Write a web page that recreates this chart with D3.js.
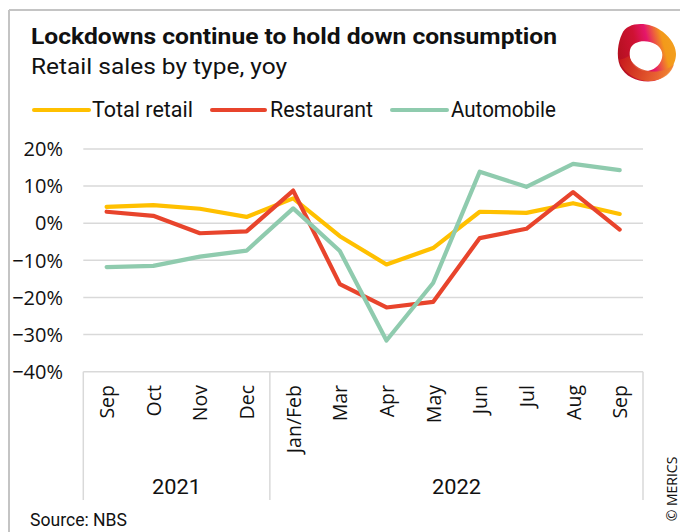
<!DOCTYPE html>
<html><head><meta charset="utf-8">
<script src="https://cdn.jsdelivr.net/npm/d3@7"></script>
<style>
html,body{margin:0;padding:0;background:#fff;}
svg{display:block;}
</style></head>
<body>
<svg id="chart" width="680" height="532"></svg>
<script>
const months = ["Sep","Oct","Nov","Dec","Jan/Feb","Mar","Apr","May","Jun","Jul","Aug","Sep"];
const years = [{label:"2021", from:0, to:4}, {label:"2022", from:4, to:12}];
const totalRetail = [4.4, 4.9, 3.9, 1.7, 6.7, -3.5, -11.1, -6.7, 3.1, 2.8, 5.4, 2.5];
const restaurant  = [3.1, 2.0, -2.7, -2.2, 8.8, -16.4, -22.7, -21.2, -4.0, -1.5, 8.4, -1.7];
const automobile  = [-11.8, -11.5, -9.0, -7.4, 4.0, -7.5, -31.6, -16.1, 13.9, 9.8, 16.0, 14.3];
const yTicks = [20, 10, 0, -10, -20, -30, -40];
const seriesNames = ["Total retail", "Restaurant", "Automobile"];
const seriesColors = ["#FFC000", "#E8442C", "#8FCBAE"];
const seriesData = [totalRetail, restaurant, automobile];

const svg = d3.select("#chart");
const condensed = "Roboto, 'Liberation Sans', sans-serif";
const axisFont = "'Open Sans', 'DejaVu Sans', sans-serif";

// frame
svg.append("line").attr("x1",9).attr("x2",680).attr("y1",10).attr("y2",10).attr("stroke","#c4c4c4").attr("stroke-width",2);
svg.append("line").attr("x1",9).attr("x2",9).attr("y1",10).attr("y2",532).attr("stroke","#c4c4c4").attr("stroke-width",2);

// title
svg.append("text").attr("x",31).attr("y",43.5).attr("font-family",condensed).attr("font-weight","bold")
  .attr("font-size",22.5).attr("fill","#111").attr("textLength",526).attr("lengthAdjust","spacingAndGlyphs")
  .text("Lockdowns continue to hold down consumption");
svg.append("text").attr("x",31).attr("y",73.5).attr("font-family",condensed)
  .attr("font-size",22).attr("fill","#111").attr("textLength",256).attr("lengthAdjust","spacingAndGlyphs")
  .text("Retail sales by type, yoy");

// logo
const defs = svg.append("defs");
const lg = defs.append("linearGradient").attr("id","lg").attr("x1","0").attr("y1","0.6").attr("x2","1").attr("y2","0.35");
lg.append("stop").attr("offset","0").attr("stop-color","#b3101f");
lg.append("stop").attr("offset","0.35").attr("stop-color","#cf1233");
lg.append("stop").attr("offset","0.55").attr("stop-color","#e5166a");
lg.append("stop").attr("offset","0.8").attr("stop-color","#f39a1a");
lg.append("stop").attr("offset","1").attr("stop-color","#f3a020");
const lg2 = defs.append("linearGradient").attr("id","lg2").attr("x1","0").attr("y1","0").attr("x2","1").attr("y2","0.2");
lg2.append("stop").attr("offset","0").attr("stop-color","#c8161c");
lg2.append("stop").attr("offset","1").attr("stop-color","#f08030");
const logo = svg.append("g");
logo.append("path")
  .attr("d","M622,34 C626,24 640,22 652,26 C664,30 676,42 676,54 C676,66 666,78 654,81 C640,83 626,78 620,66 C616,56 618,42 622,34 Z M630,50 C632,42 642,40 650,42 C658,44 664,50 662,58 C660,66 652,72 644,71 C636,70 628,62 630,50 Z")
  .attr("fill","url(#lg)").attr("fill-rule","evenodd");
logo.append("path")
  .attr("d","M619,60 C623,72 636,82 652,81 C664,80 672,72 674,64 C668,70 658,73 648,71 C638,69 632,64 629,56 C626,58 622,59 619,60 Z")
  .attr("fill","url(#lg2)").attr("opacity",0.9);

// legend
const legendItems = [
  {x1:34, x2:89, tx:92, tw:101},
  {x1:212, x2:265, tx:270, tw:103},
  {x1:392, x2:447, tx:451, tw:105}
];
legendItems.forEach((d,i)=>{
  svg.append("line").attr("x1",d.x1).attr("x2",d.x2).attr("y1",110).attr("y2",110)
    .attr("stroke",seriesColors[i]).attr("stroke-width",4).attr("stroke-linecap","round");
  svg.append("text").attr("x",d.tx).attr("y",117).attr("font-family",condensed).attr("font-size",21.5)
    .attr("fill","#111").attr("textLength",d.tw).attr("lengthAdjust","spacingAndGlyphs").text(seriesNames[i]);
});

// scales
const x = d3.scaleBand().domain(d3.range(months.length)).range([83.3, 643]).padding(0);
const y = d3.scaleLinear().domain([-40, 20]).range([371.7, 149]);
const cx = i => x(i) + x.bandwidth()/2;

// gridlines
svg.append("g").selectAll("line").data(yTicks).join("line")
  .attr("x1",83.3).attr("x2",643).attr("y1",d=>y(d)).attr("y2",d=>y(d))
  .attr("stroke","#d9d9d9").attr("stroke-width",1.5);

// y tick labels
svg.append("g").selectAll("text").data(yTicks).join("text")
  .attr("x",63).attr("y",d=>y(d)).attr("dy","0.36em").attr("text-anchor","end")
  .attr("font-family",axisFont).attr("font-size",20).attr("fill","#111")
  .text(d=>d3.format("d")(d)+"%");

// category axis separators
const seps = [0, 4, 12];
svg.append("g").selectAll("line").data(seps).join("line")
  .attr("x1",d=> d===12 ? x.range()[1] : x(d)).attr("x2",d=> d===12 ? x.range()[1] : x(d))
  .attr("y1",y(-40)).attr("y2",500).attr("stroke","#d9d9d9").attr("stroke-width",1.5);

// month labels
svg.append("g").selectAll("text").data(months).join("text")
  .attr("transform",(d,i)=>`translate(${cx(i)+7.5},385) rotate(-90)`)
  .attr("text-anchor","end").attr("font-family",axisFont).attr("font-size",19.5).attr("fill","#111")
  .text(d=>d);

// year labels
svg.append("g").selectAll("text").data(years).join("text")
  .attr("x",d=>(x(d.from) + (d.to===12 ? x.range()[1] : x(d.to)))/2).attr("y",494)
  .attr("text-anchor","middle").attr("font-family",condensed).attr("font-size",21).attr("fill","#111")
  .attr("textLength",49).attr("lengthAdjust","spacingAndGlyphs")
  .text(d=>d.label);

// lines
const line = d3.line().x((d,i)=>cx(i)).y(d=>y(d));
seriesData.forEach((data,i)=>{
  svg.append("path").datum(data).attr("d",line).attr("fill","none")
    .attr("stroke",seriesColors[i]).attr("stroke-width",4.2)
    .attr("stroke-linejoin","round").attr("stroke-linecap","round");
});

// source
svg.append("text").attr("x",30).attr("y",526).attr("font-family",condensed).attr("font-size",18)
  .attr("fill","#111").attr("textLength",97).attr("lengthAdjust","spacingAndGlyphs").text("Source: NBS");

// copyright
svg.append("text").attr("transform","translate(677,489) rotate(-90)").attr("text-anchor","middle")
  .attr("font-family",axisFont).attr("font-size",14).attr("fill","#111").text("© MERICS");
</script>
</body></html>
